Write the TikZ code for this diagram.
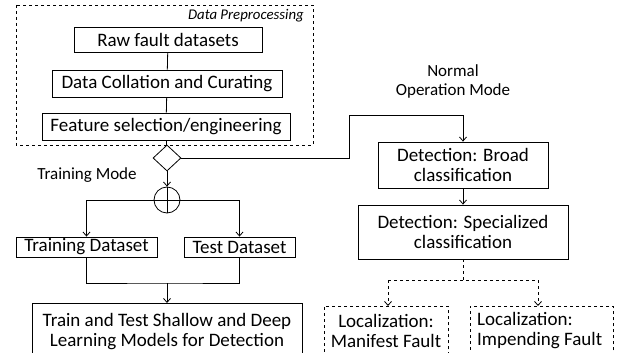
\documentclass[tikz,border=0pt]{standalone}
\usepackage{fontspec}
\setmainfont{Carlito}
\usetikzlibrary{arrows.meta,shapes.geometric}
\tikzset{
  bigfont/.style={font=\fontsize{19}{20}\selectfont},
  box/.style={draw, line width=0.8pt, inner sep=0pt, align=center, bigfont},
  dbox/.style={box, dashed},
  lab/.style={inner sep=0pt, align=center, font=\fontsize{17}{19}\selectfont},
  conn/.style={line width=0.8pt},
  arr/.style={conn, -{Straight Barb[length=4pt,width=7pt]}},
}
\begin{document}
\begin{tikzpicture}[x=1pt, y=-1pt]
\useasboundingbox (0,0) rectangle (622,353);
\clip (0,0) rectangle (622,353);

% preprocessing group
\draw[conn, dashed, line width=0.6pt] (16,5) rectangle (313,145);
\node[lab, anchor=east, font=\fontsize{14.8}{16}\selectfont\itshape] (pre) at (304,16) {Data Preprocessing};

\node[box, minimum width=188pt, minimum height=25pt] (raw) at (168,39.5) {Raw fault datasets};
\node[box, minimum width=230pt, minimum height=27pt] (cur) at (167,83.5) {Data Collation and Curating};
\node[box, minimum width=248pt, minimum height=27pt] (feat) at (166,126.5) {Feature selection/engineering};

% mode switch
\node[draw, diamond, line width=0.8pt, minimum width=28pt, minimum height=26pt, inner sep=0pt, aspect=1.08] (sw) at (167,158) {};
\node[draw, circle, line width=0.8pt, minimum size=26pt, inner sep=0pt] (split) at (167,200) {};
\draw[conn] (split.north) -- (split.south) (split.west) -- (split.east);

\node[lab] (tm) at (87,175) {Training Mode};
\node[lab] (om) at (453,81) {Normal\\Operation Mode};

% training branch
\node[box, minimum width=141pt, minimum height=20pt] (trn) at (86.5,247) {Training Dataset};
\node[box, minimum width=111pt, minimum height=20pt] (tst) at (239.5,247) {Test Dataset};
\node[box, minimum width=270pt, minimum height=57pt, anchor=north] (mdl) at (167,303) {};
\node[lab, bigfont] (mdltxt) at (167,332) {Train and Test Shallow and Deep\\Learning Models for Detection};

% operation branch
\node[box, minimum width=170pt, minimum height=46pt] (brd) at (463,165) {Detection: Broad\\classification};
\node[box, minimum width=210pt, minimum height=54pt] (spc) at (463,232) {Detection: Specialized\\classification};
\node[dbox, minimum width=124pt, minimum height=57pt, anchor=north] (man) at (386,306) {};
\node[lab, bigfont] (mantxt) at (386,331) {Localization:\\Manifest Fault};
\node[dbox, minimum width=143pt, minimum height=57pt, anchor=north] (imp) at (541.5,306) {};
\node[lab, bigfont, align=left, anchor=west] (imptxt) at (477,331) {Localization:\\Impending Fault};

% connectors
\draw[conn] (raw) -- (cur);
\draw[conn] (cur) -- (feat);
\draw[conn] (feat) -- (sw);
\draw[arr] (sw) -- (split);
\draw[arr] (sw.east) -- (349,158) -- (349,115) -| (brd.north);
\coordinate (tl) at (trn.north |- split);
\coordinate (tr) at (tst.north |- split);
\draw[arr] (split.west) -- (tl) -- (trn.north);
\draw[arr] (split.east) -- (tr) -- (tst.north);
\coordinate (jn) at (167,283);
\draw[conn] (trn.south) |- (jn) -| (tst.south);
\draw[arr] (jn) -- (mdl.north);
\draw[arr] (brd) -- (spc);
\coordinate (sj) at (463,280);
\coordinate (ml) at (388,280);
\coordinate (mr) at (538,280);
\draw[conn, dashed] (spc.south) -- (sj);
\draw[conn, dashed] (ml) -- (mr);
\draw[arr, dashed] (ml) -- (ml |- man.north);
\draw[arr, dashed] (mr) -- (mr |- imp.north);
\end{tikzpicture}
\end{document}
